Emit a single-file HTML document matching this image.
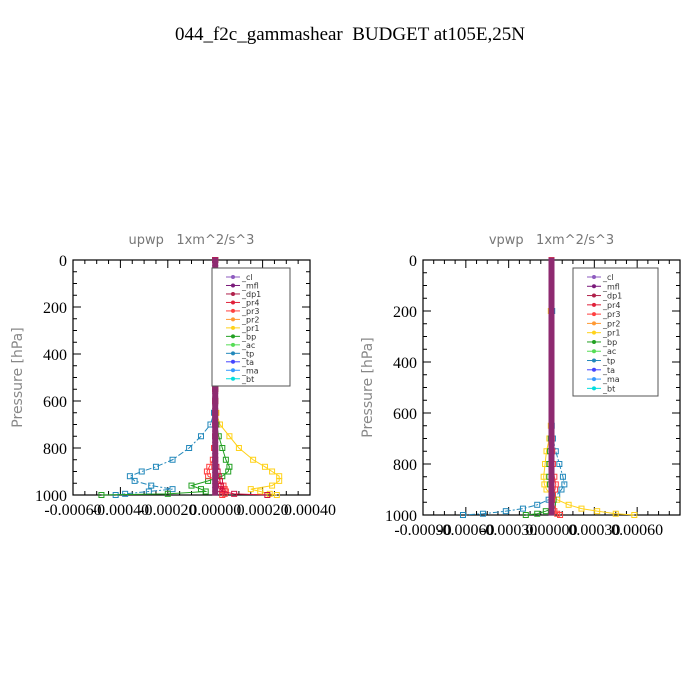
<!DOCTYPE html>
<html><head><meta charset="utf-8"><style>
body{margin:0;background:#fff;width:700px;height:700px;overflow:hidden}
svg{display:block}
text{white-space:pre}
</style></head><body>
<svg id="c" width="700" height="700" xmlns="http://www.w3.org/2000/svg">
<text x="350" y="40" text-anchor="middle" font-family="Liberation Serif, serif" font-size="19" xml:space="preserve">044_f2c_gammashear  BUDGET at105E,25N</text>
</svg>
<script>
// ---- data (values in 1e-4 m^2/s^3) ----
const levels = [0,50,100,150,200,250,300,350,400,450,500,550,600,650,700,750,800,850,880,900,920,940,960,975,985,995,1000];
const seriesNames = ["_cl","_mfl","_dp1","_pr4","_pr3","_pr2","_pr1","_bp","_ac","_tp","_ta","_ma","_bt"];
const seriesColors = ["#8e5bbf","#7a1a7a","#b0204a","#e0203a","#ff4040","#ff9933","#ffd21a","#22a022","#55dd55","#2288bb","#4444ff","#3399ff","#00dddd"];
// left panel (upwp)
const upTp  = [0,0,0,0,0,0,0,0,0,0,0,0,0,-0.05,-0.2,-0.6,-1.1,-1.8,-2.5,-3.1,-3.6,-3.4,-2.7,-1.8,-2.8,-3.8,-4.2];
const upPr1 = [0,0,0,0,0,0,0,0,0,0,0,0,0,0.05,0.2,0.6,1.0,1.6,2.1,2.4,2.7,2.7,2.4,1.5,1.9,2.3,2.6];
const upBp  = [0,0,0,0,0,0,0,0,0,0,0,0,0,0,0.05,0.15,0.3,0.45,0.6,0.55,0.3,-0.3,-1.0,-0.6,-0.4,-2.0,-4.8];
const upPr3 = [0,0,0,0,0,0,0,0,0,0,0,0,0,0,0,0,-0.05,-0.1,-0.25,-0.35,-0.3,0.1,0.35,0.4,0.45,0.4,0.3];
const upPr4 = [0,0,0,0,0,0,0,0,0,0,0,0,0,0,0,0,0,0,0.05,0.1,0.15,0.2,0.25,0.2,0.3,0.8,2.2];
// right panel (vpwp)
const vpTp  = [0,0,0,0,0.05,0,0,0,0,0,0,0,0,0.02,0.1,0.3,0.55,0.8,0.9,0.7,0.4,-0.2,-1.0,-2.0,-3.2,-4.8,-6.2];
const vpPr1 = [0,0,0,0,-0.05,0,0,0,0,0,0,0,0,-0.05,-0.15,-0.35,-0.45,-0.55,-0.5,-0.35,0.0,0.4,1.2,2.1,3.2,4.5,5.8];
const vpBp  = [0,0,0,0,0,0,0,0,0,0,0,0,0,0,-0.05,-0.1,-0.15,-0.15,-0.1,0,0.1,0.15,0.1,0.0,-0.4,-1.0,-1.8];
const vpPr3 = [0,0,0,0,0,0,0,0,0,0,0,0,0,0,0.02,0.05,0.1,0.2,0.3,0.25,0.1,0.05,0.0,0.1,0.2,0.4,0.6];
const leftXTicks = [-6,-4,-2,0,2,4];
const rightXTicks = [-9,-6,-3,0,3,6];
const yTicks = [0,200,400,600,800,1000];

const NS="http://www.w3.org/2000/svg";
const svg=document.getElementById('c');
function el(t,a,p){const e=document.createElementNS(NS,t);for(const k in a)e.setAttribute(k,a[k]);(p||svg).appendChild(e);return e;}

function panel(cfg){
  const g=el('g',{});
  
  
  const {x0,x1,y0,y1,xmin,xmax}=cfg;
  const X=v=>x0+(v-xmin)/(xmax-xmin)*(x1-x0);
  const Y=p=>y0+p/1000*(y1-y0);
  const t=el('text',{x:(x0+x1)/2,y:y0-16,'text-anchor':'middle','font-family':'DejaVu Sans, sans-serif','font-size':13,fill:'#777'},g);
  t.textContent=cfg.title;
  
  
  const yl=el('text',{x:0,y:0,transform:`translate(${x0-51},${(y0+y1)/2}) rotate(-90)`,'text-anchor':'middle','font-family':'DejaVu Sans, sans-serif','font-size':14,fill:'#888'},g);
  yl.textContent='Pressure [hPa]';
  
  
  for(let p=0;p<=1000;p+=50){
    const L=p%200===0?8:4;
    el('line',{x1:x0,x2:x0+L,y1:Y(p),y2:Y(p),stroke:'#000'},g);
    el('line',{x1:x1,x2:x1-L,y1:Y(p),y2:Y(p),stroke:'#000'},g);
  }
  yTicks.forEach(p=>{const tt=el('text',{x:x0-6,y:Y(p)+6,'text-anchor':'end','font-family':'Liberation Serif, serif','font-size':16},g);tt.textContent=p;
    });
  const step=cfg.xticks[1]-cfg.xticks[0];
  for(let v=xmin;v<=xmax+1e-9;v+=step/4){
    const maj=Math.abs((v-xmin)/step-Math.round((v-xmin)/step))<1e-6;
    const L=maj?8:4;
    el('line',{x1:X(v),x2:X(v),y1:y1,y2:y1-L,stroke:'#000'},g);
    el('line',{x1:X(v),x2:X(v),y1:y0,y2:y0+L,stroke:'#000'},g);
  }
  cfg.xticks.forEach(v=>{const tt=el('text',{x:X(v),y:y1+20,'text-anchor':'middle','font-family':'Liberation Serif, serif','font-size':16},g);
    tt.textContent=(v*1e-4).toFixed(5);
    });
  el('rect',{x:x0,y:y0,width:x1-x0,height:y1-y0,fill:'none',stroke:'#000','stroke-width':1.2},g);
  cfg.series.forEach(s=>{
    const pts=s.vals.map((v,i)=>[X(v),Y(levels[i])]);
    const pl=el('polyline',{points:pts.map(p=>p.join(',')).join(' '),fill:'none',stroke:s.color,'stroke-width':1,'stroke-dasharray':s.dash||''},g);
    
    
    pts.forEach(p=>el('rect',{x:p[0]-2.5,y:p[1]-2.5,width:5,height:5,fill:'none',stroke:s.color},g));
  });
  el('line',{x1:X(0)-1,x2:X(0)-1,y1:y0,y2:y1,stroke:'#e02030','stroke-width':2},g);
  const zl=el('line',{x1:X(0)+0.5,x2:X(0)+0.5,y1:y0,y2:y1,stroke:'#7a1a7a','stroke-width':3},g);
  
  
  for(let p=0;p<=1000;p+=16) el('rect',{x:X(0)-3,y:Y(p)-2.5,width:6,height:5,fill:'#8e2a70'},g);
  const lg=el('g',{},g);
  
  
  el('rect',{x:cfg.lx,y:cfg.ly,width:cfg.lw,height:cfg.lh,fill:'#fff',stroke:'#555'},lg);
  seriesNames.forEach((n,i)=>{
    const yy=cfg.ly+9+i*(cfg.lh-12)/12.5;
    el('line',{x1:cfg.lx+14,x2:cfg.lx+28,y1:yy,y2:yy,stroke:seriesColors[i]},lg);
    el('circle',{cx:cfg.lx+21,cy:yy,r:2,fill:seriesColors[i]},lg);
    const tt=el('text',{x:cfg.lx+30,y:yy+3,'font-family':'DejaVu Sans, sans-serif','font-size':8,fill:'#333'},lg);
    tt.textContent=n;
    
    
  });
}
panel({name:'upwp-panel',title:'upwp   1xm^2/s^3',x0:73,x1:310,y0:260,y1:495,xmin:-6,xmax:4,xticks:leftXTicks,
  lx:212,ly:268,lw:78,lh:118,
  series:[{n:'_tp',vals:upTp,color:'#2288bb',dash:'6,2,2,2'},{n:'_pr1',vals:upPr1,color:'#ffd21a'},{n:'_bp',vals:upBp,color:'#22a022'},{n:'_pr3',vals:upPr3,color:'#ff4040'},{n:'_pr4',vals:upPr4,color:'#d01040'}]});
panel({name:'vpwp-panel',title:'vpwp   1xm^2/s^3',x0:423,x1:680,y0:260,y1:515,xmin:-9,xmax:9,xticks:rightXTicks,
  lx:573,ly:268,lw:85,lh:128,
  series:[{n:'_tp',vals:vpTp,color:'#2288bb',dash:'6,2,2,2'},{n:'_pr1',vals:vpPr1,color:'#ffd21a'},{n:'_bp',vals:vpBp,color:'#22a022'},{n:'_pr3',vals:vpPr3,color:'#ff4040'}]});
</script>
</body></html>
